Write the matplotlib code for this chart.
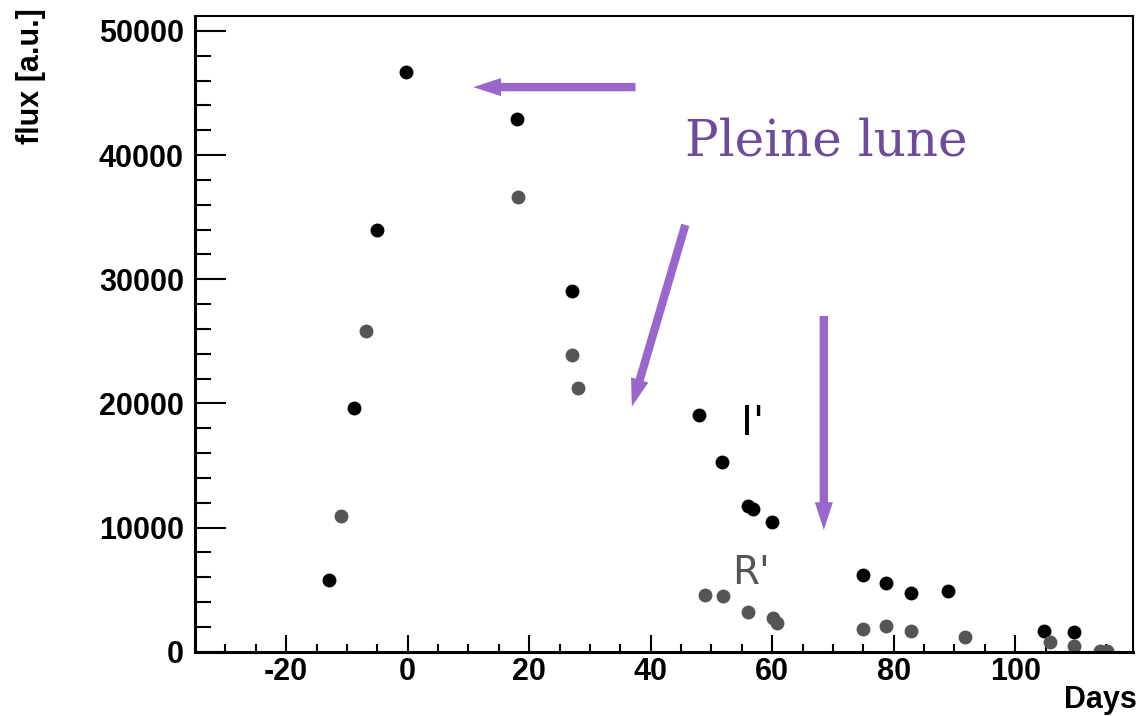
import numpy as np
import matplotlib
matplotlib.use('Agg')
import matplotlib.pyplot as plt
from matplotlib.ticker import MultipleLocator

# I' band (black points)
i_days = [-13, -8.9, -5, -0.2, 18, 27.1, 48, 51.8, 56.1, 56.8, 60, 74.9, 78.8, 82.8, 88.9, 104.7, 109.6]
i_flux = [5750, 19600, 33950, 46650, 42900, 29050, 19050, 15300, 11700, 11500, 10450, 6200, 5500, 4700, 4900, 1700, 1600]

# R' band (grey points)
r_days = [-11, -6.9, 18.1, 27.1, 28, 49, 51.9, 56.1, 60.1, 60.8, 74.9, 78.8, 82.8, 91.8, 105.8, 109.6, 114, 115.1]
r_flux = [10950, 25850, 36650, 23900, 21200, 4600, 4500, 3200, 2700, 2300, 1800, 2050, 1650, 1200, 800, 450, 80, 80]

purple = '#9966cc'
text_purple = '#6d4a9b'
grey = '#555555'

plt.rcParams['axes.unicode_minus'] = False

fig = plt.figure(figsize=(11.4, 7.16), dpi=100)
ax = fig.add_axes([0.1711, 0.0898, 0.9939 - 0.1711, 0.9777 - 0.0898])

ax.plot(i_days, i_flux, 'o', color='black', ms=10, mew=0, ls='none')
ax.plot(r_days, r_flux, 'o', color=grey, ms=10, mew=0, ls='none')

ax.set_xlim(-35, 119.4)
ax.set_ylim(0, 51200)

ax.xaxis.set_major_locator(MultipleLocator(20))
ax.xaxis.set_minor_locator(MultipleLocator(5))
ax.yaxis.set_major_locator(MultipleLocator(10000))
ax.yaxis.set_minor_locator(MultipleLocator(2000))

ax.tick_params(axis='both', which='both', direction='in', top=False, right=False, width=1.5)
ax.tick_params(axis='y', which='major', length=22, pad=8)
ax.tick_params(axis='y', which='minor', length=11.5)
ax.tick_params(axis='x', which='major', length=12, pad=4)
ax.tick_params(axis='x', which='minor', length=6)

for lab in ax.get_xticklabels():
    lab.set_fontfamily('Liberation Sans')
    lab.set_fontweight('bold')
    lab.set_fontsize(22)
for lab in ax.get_yticklabels():
    lab.set_fontfamily('Liberation Sans')
    lab.set_fontweight('bold')
    lab.set_fontsize(22)

for side in ['left', 'bottom']:
    ax.spines[side].set_linewidth(2.2)
for side in ['top', 'right']:
    ax.spines[side].set_linewidth(1.5)

fig.text(0.027, 0.989, 'flux [a.u.]', rotation=90, ha='center', va='top',
         fontfamily='Liberation Sans', fontweight='bold', fontsize=22)
fig.text(0.997, 0.011, 'Days', ha='right', va='baseline',
         fontfamily='Liberation Sans', fontweight='bold', fontsize=22)

# band labels
ax.text(54.8, 17460, "I'", ha='left', va='baseline', fontfamily='Liberation Sans Narrow',
        fontsize=29, color='black')
ax.text(53.4, 5450, "R'", ha='left', va='baseline', fontfamily='Liberation Sans Narrow',
        fontsize=28, color=grey)

# full moon annotation
ax.text(45.7, 40000, 'Pleine lune', ha='left', va='baseline', fontfamily='DejaVu Serif',
        fontsize=36, color=text_purple)

arrow_style = dict(width=6, headwidth=13, headlength=20, shrink=0,
                   facecolor=purple, edgecolor='none')
ax.annotate('', xy=(10.8, 45470), xytext=(37.5, 45470), arrowprops=arrow_style)
ax.annotate('', xy=(36.9, 19740), xytext=(45.7, 34370), arrowprops=arrow_style)
ax.annotate('', xy=(68.5, 9800), xytext=(68.5, 27040), arrowprops=arrow_style)

fig.savefig('out.png', dpi=100)
